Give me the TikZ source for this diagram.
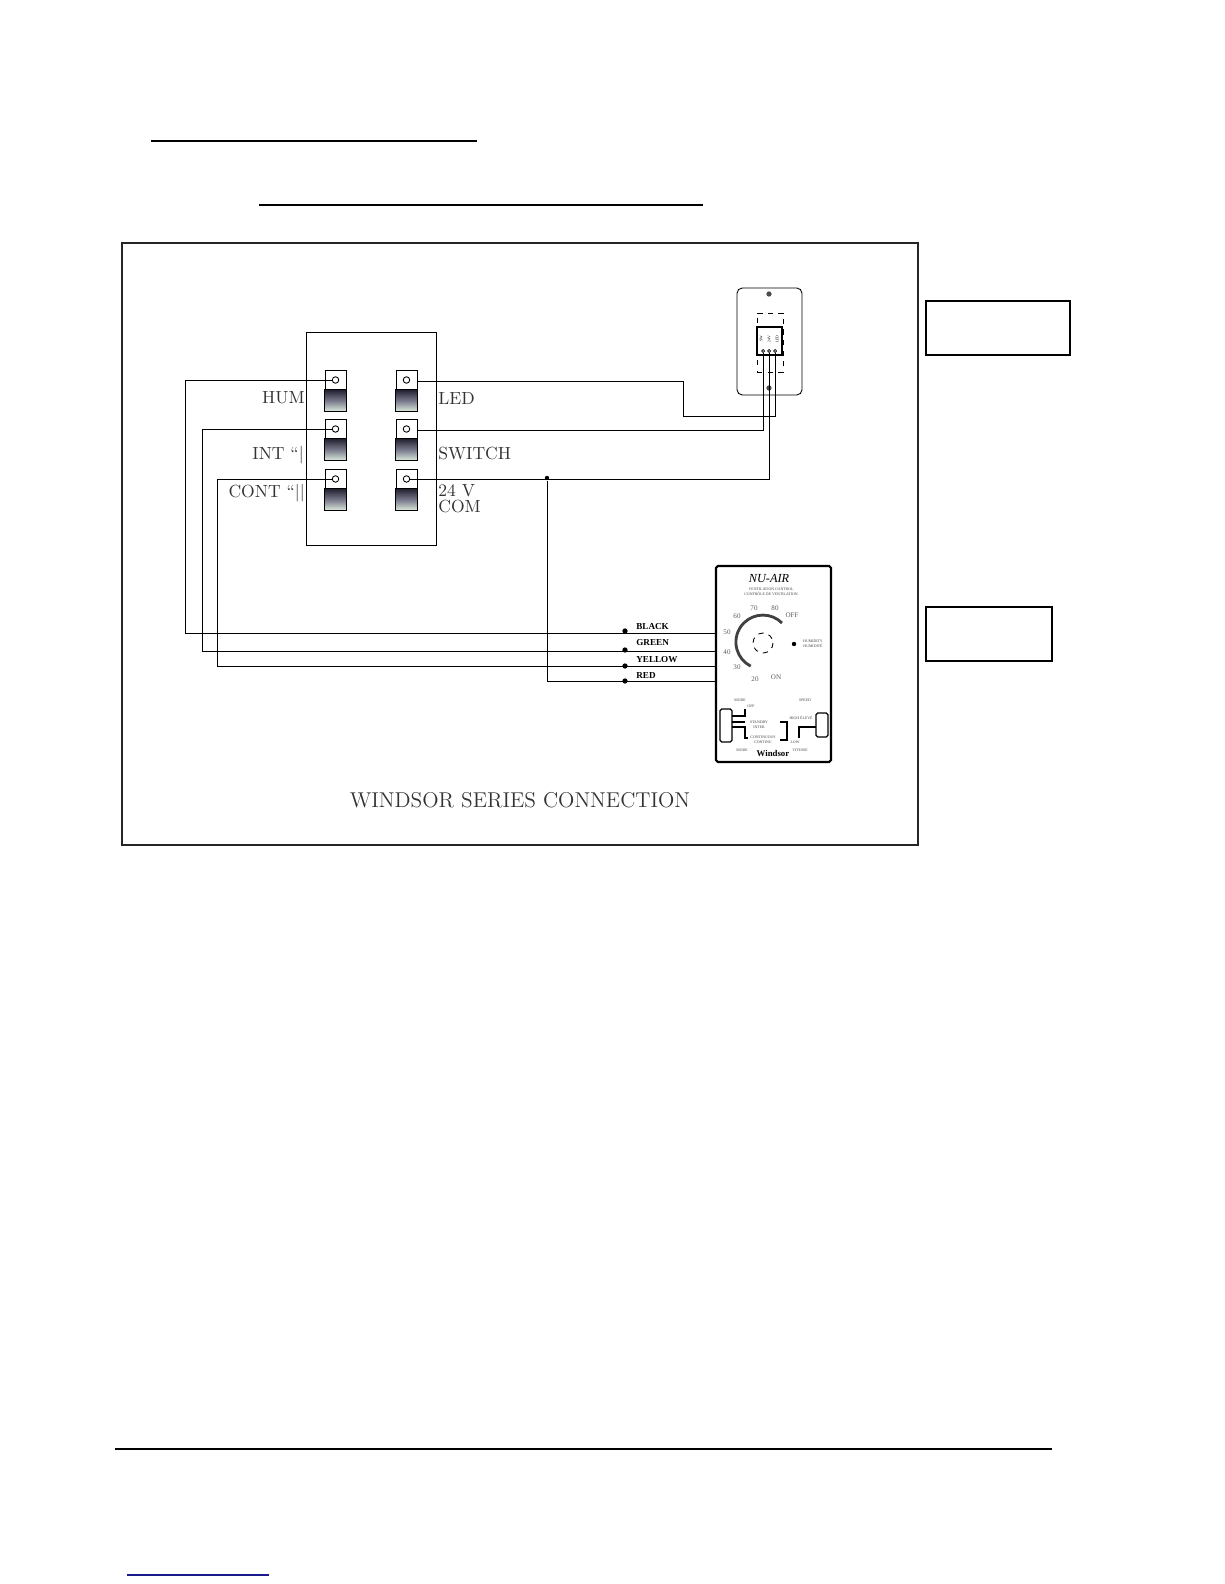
\documentclass[tikz,border=0pt]{standalone}
\usepackage{amsmath}
\usepackage{fontspec}
\usepackage{tikz}
\usetikzlibrary{positioning}
\usetikzlibrary{calc}
\newfontfamily\smallserif{Liberation Serif}
\definecolor{swdark}{HTML}{1E1E2E}
\definecolor{swmid}{HTML}{77778A}
\definecolor{swlight}{HTML}{DCEBDC}
\definecolor{linkblue}{HTML}{1A1A8C}
\tikzset{
    box/.style={
           rectangle,
           draw=black,
           inner sep=0pt,
           outer sep=0pt,
           },
    heavybox/.style={box, line width=1.2pt},
    swtop/.style={
           box, line width=.5pt,
           minimum width=.42cm,
           minimum height=.38cm,
           },
    swlow/.style={
           box, line width=.5pt,
           minimum width=.45cm,
           minimum height=.44cm,
           top color=swdark,
           bottom color=swlight,
           middle color=swmid,
           },
    termc/.style={
           circle, draw=black, fill=white,
           line width=.5pt,
           minimum width=.13cm,
           inner sep=0pt,
           },
    point/.style={
           circle,
           minimum width=3pt,
           inner sep=0pt,
           fill,
           },
    lab/.style={
           inner sep=0pt,
           text=black!80,
           font=\normalsize,
           },
    colorlab/.style={
           anchor=west,
           inner sep=0pt,
           font=\smallserif\bfseries\fontsize{5.2}{6}\selectfont,
           },
    dial/.style={
           inner sep=0pt,
           text=black!65,
           font=\smallserif\fontsize{4}{5}\selectfont,
           },
    fine/.style={
           inner sep=0pt,
           align=center,
           text=black!75,
           font=\smallserif\fontsize{2.2}{2.8}\selectfont,
           },
    wire/.style={line width=.5pt},
    lead/.style={line width=.7pt},
    rulebar/.style={line width=1.3pt},
}
\begin{document}
\begin{tikzpicture}[x=.02cm, y=-.02cm]
  \useasboundingbox (0,0) rectangle (1224,1584);
  % page rules
  \draw[rulebar] (151,141) -- (477,141);
  \draw[rulebar] (259,205) -- (703,205);
  \draw[rulebar] (115,1449) -- (1052,1449);
  \draw[line width=.7pt, linkblue] (127,1575) -- (269,1575);
  % frame and side boxes
  \node[heavybox, minimum width=15.92cm, minimum height=12.04cm, draw=black!85] (frame) at (520,544) {};
  \node[heavybox, minimum width=2.88cm, minimum height=1.08cm] (boxa) at (998,328) {};
  \node[heavybox, minimum width=2.52cm, minimum height=1.08cm] (boxb) at (989,634) {};
  \node[lab, font=\fontsize{12.2}{14}\selectfont] (title) at (520,800) {WINDSOR SERIES CONNECTION};
  % switch panel
  \node[box, line width=.5pt, minimum width=2.6cm, minimum height=4.26cm] (panel) at (371,438.5) {};
  \node[swtop] (hum) at (335.5,380) {};
  \node[swlow] (humlow) [below=0pt of hum] {};
  \node[swtop] (int) [below=.16cm of humlow] {};
  \node[swlow] (intlow) [below=0pt of int] {};
  \node[swtop] (cont) [below=.18cm of intlow] {};
  \node[swlow] (contlow) [below=0pt of cont] {};
  \node[swtop] (led) [right=1cm of hum] {};
  \node[swlow] (ledlow) [below=0pt of led] {};
  \node[swtop] (sw) [right=1cm of int] {};
  \node[swlow] (swlow) [below=0pt of sw] {};
  \node[swtop] (com) [right=1cm of cont] {};
  \node[swlow] (comlow) [below=0pt of com] {};
  \node[lab, anchor=east] (humlab) at (305,398) {HUM};
  \node[lab, anchor=east] (intlab) at (304,455) {INT “|};
  \node[lab, anchor=east] (contlab) at (305,493) {CONT “||};
  \node[lab, anchor=west] (ledlab) at (438,398) {LED};
  \node[lab, anchor=west] (swlab) at (438,453) {SWITCH};
  \node[lab, anchor=west] (vlab) at (438,491) {24 V};
  \node[lab, anchor=west] (comlab) at (438,506) {COM};
  % wall plate
  \node[box, line width=.5pt, rounded corners=3pt, minimum width=1.3cm, minimum height=2.14cm] (plate) at (769.5,341.5) {};
  \node[box, dashed, line width=.5pt, minimum width=.52cm, minimum height=1.18cm] (dash) at (770,342.5) {};
  \node[box, line width=.6pt, fill=white, minimum width=.5cm, minimum height=.56cm] (block) at (769.5,341) {};
  \node[point, minimum width=3pt, black!70] (screwa) at (769,294) {};
  \node[point, minimum width=3pt, black!70] (screwb) at (769,388) {};
  \node[fine, rotate=90, text=black] (ta) at (761,339) {SW};
  \node[fine, rotate=90, text=black] (tb) at (769,339) {24V};
  \node[fine, rotate=90, text=black] (tc) at (777,339) {LED};
  \node[termc, minimum width=.06cm, line width=.4pt] (tsw) at (763,351) {};
  \node[termc, minimum width=.06cm, line width=.4pt] (tcom) at (769,351) {};
  \node[termc, minimum width=.06cm, line width=.4pt] (tled) at (775,351) {};
  % control
  \node[heavybox, rounded corners=1pt, minimum width=2.3cm, minimum height=3.92cm] (ctrl) at (773.5,664) {};
  \node[inner sep=0pt, font=\smallserif\itshape\fontsize{7}{8}\selectfont] (nuair) at (769,578) {NU-AIR};
  \node[fine] (ctrltxt) at (771,592) {VENTILATION CONTROL\\CONTR\^OLE DE VENTILATION};
  \node[dial] (d70) at (754,608) {70};
  \node[dial] (d80) at (775,608) {80};
  \node[dial] (doff) at (792,615) {OFF};
  \node[dial] (d60) at (737,616) {60};
  \node[dial] (d50) at (727,632) {50};
  \node[dial] (d40) at (727,652) {40};
  \node[dial] (d30) at (737,667) {30};
  \node[dial] (d20) at (755,679) {20};
  \node[dial] (don) at (776,677) {ON};
  \draw[line width=1.6pt, black!75] (782,623) arc[start angle=-45, end angle=-243, radius=27];
  \draw[dashed, line width=.5pt] (763,643) circle[radius=10];
  \node[point, minimum width=2.5pt] (humdot) at (794,644) {};
  \node[fine] (humtxt) at (813,644) {HUMIDITY\\HUMIDIT\'E};
  \node[box, line width=.7pt, rounded corners=1pt, minimum width=.24cm, minimum height=.66cm] (slidea) at (726,725.5) {};
  \node[box, line width=.7pt, rounded corners=1pt, minimum width=.24cm, minimum height=.48cm] (slideb) at (822,725) {};
  \node[fine] (modetop) at (740,700) {MODE};
  \node[fine] (speedtop) at (805,700) {SPEED};
  \node[fine] (offtxt) at (751,706) {OFF};
  \node[fine] (stdby) at (759,724.5) {STANDBY\\INTER};
  \node[fine] (conttxt) at (763,740) {CONTINUOUS\\CONTINU};
  \node[fine] (hightxt) at (801,718) {HIGH \'ELEV\'E};
  \node[fine] (lowtxt) at (795,742) {LOW};
  \node[fine] (modebot) at (742,750) {MODE};
  \node[fine] (speedbot) at (800,750) {VITESSE};
  \node[inner sep=0pt, font=\smallserif\bfseries\fontsize{5}{6}\selectfont] (brand) at (773,754) {Windsor};
  \coordinate (ma) at (745,709);
  \coordinate (mb) at (745,722);
  \coordinate (mc) at (748,738);
  \coordinate (sa) at (787,722);
  \coordinate (sb) at (780,722);
  \coordinate (sc) at (780,740);
  \coordinate (sd) at (799,738);
  \draw[lead] (slidea.east |- 0,716) -| (ma);
  \draw[lead] (slidea.east |- mb) -- (mb);
  \draw[lead] (slidea.east |- 0,727) -| (745,738) -- (mc);
  \draw[lead] (sb) -- (sa) |- (sc);
  \draw[lead] (slideb.west |- 0,727) -| (sd);
  % wires
  \node[termc] (humt) at (hum) {};
  \node[termc] (intt) at (int) {};
  \node[termc] (contt) at (cont) {};
  \node[termc] (ledt) at (led) {};
  \node[termc] (swt) at (sw) {};
  \node[termc] (comt) at (com) {};
  \coordinate (black) at (ctrl.west |- 0,633);
  \coordinate (green) at (ctrl.west |- 0,651);
  \coordinate (yellow) at (ctrl.west |- 0,666);
  \coordinate (red) at (ctrl.west |- 0,681);
  \coordinate (bkb) at (185,633);
  \coordinate (gnb) at (202,651);
  \coordinate (ylb) at (217,666);
  \coordinate (ledb) at (683,416);
  \node[point, minimum width=2.5pt] (jn) at (547,478) {};
  \draw[wire] (humt.west) -| (bkb) -- (black);
  \draw[wire] (intt.west) -| (gnb) -- (green);
  \draw[wire] (contt.west) -| (ylb) -- (yellow);
  \draw[wire] (jn) |- (red);
  \draw[wire] ([yshift=-.02cm]led.east) -| (ledb) -| (tled.south);
  \draw[wire] ([yshift=-.03cm]sw.east) -| (tsw.south);
  \draw[wire] (comt.east) -| (tcom.south);
  \node[point] (pa) at (625,631) {};
  \node[point] (pb) at (625,650) {};
  \node[point] (pc) at (625,666) {};
  \node[point] (pd) at (625,681) {};
  \node[colorlab] (labk) at (636,627) {BLACK};
  \node[colorlab] (lgn) at (636,643) {GREEN};
  \node[colorlab] (lyl) at (636,660) {YELLOW};
  \node[colorlab] (lrd) at (636,676) {RED};
\end{tikzpicture}
\end{document}
